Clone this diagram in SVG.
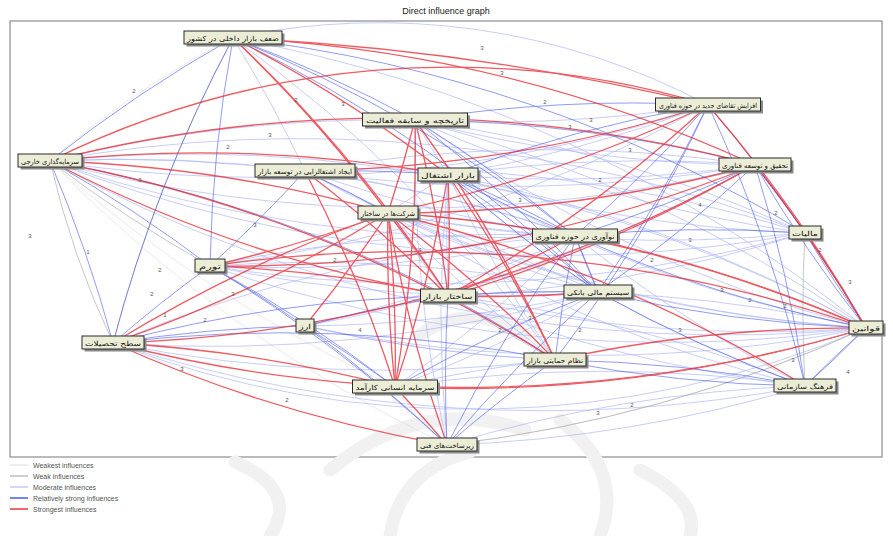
<svg xmlns="http://www.w3.org/2000/svg" width="893" height="536" viewBox="0 0 893 536">
<style>
.e{fill:none}
.s5{stroke:#e8262f;stroke-width:1.3;opacity:.75}
.s4{stroke:#3b4fe6;stroke-width:.8;opacity:.7}
.s3{stroke:#a3aef5;stroke-width:.7;opacity:.85}
.s2{stroke:#a0a0a0;stroke-width:.6}
.s1{stroke:#dcdcdc;stroke-width:.6}
.n rect.b{fill:#ecedd6;stroke:#2a2a2a;stroke-width:1}
.n rect.sh{fill:#8a8a8a}
.n text{font-family:"DejaVu Sans",sans-serif;font-size:7px;fill:#111;text-anchor:middle}
.lb{font-family:"Liberation Sans",sans-serif;font-size:6px;fill:#555;text-anchor:middle}
.lg{font-family:"Liberation Sans",sans-serif;font-size:7px;fill:#555}
.wm{fill:none;stroke:#f1f1f1;stroke-width:13;stroke-linecap:round}
</style>
<rect width="893" height="536" fill="#fff"/>
<text x="446" y="14" font-family="Liberation Sans,sans-serif" font-size="9" fill="#222" text-anchor="middle">Direct influence graph</text>
<rect x="10" y="21" width="872" height="436" fill="#fff" stroke="#777" stroke-width="1"/>
<g id="watermark">
<path class="wm" d="M330 470 Q420 395 525 430"/>
<path class="wm" d="M560 420 Q625 470 600 536"/>
<path class="wm" d="M390 536 Q400 470 470 452"/>
<path class="wm" d="M235 462 Q300 490 270 536"/>
<path class="wm" d="M420 335 Q470 300 525 335"/>
<path class="wm" d="M640 470 Q700 500 690 536"/>
</g>
<g id="connectors" class="e">
<g class="s1">
<path d="M50 161 A1400 1400 0 0 0 447 445"/>
<path d="M233 38 A900 900 0 0 0 50 161"/>
<path d="M866 328 A1400 1400 0 0 1 447 445"/>
<path d="M50 161 A1400 1400 0 0 0 395 387"/>
</g>
<g class="s2">
<path d="M50 161 A900 900 0 0 0 113 343"/>
<path d="M447 445 A1400 1400 0 0 0 866 328"/>
<path d="M113 343 A1400 1400 0 0 1 233 38"/>
<path d="M210 266 A1400 1400 0 0 1 50 161"/>
<path d="M805 386 A1400 1400 0 0 1 805 233"/>
</g>
<g class="s3">
<path d="M233 38 A700 700 0 0 1 708 105"/>
<path d="M50 161 A1400 1400 0 0 1 805 233"/>
<path d="M50 161 A1400 1400 0 0 1 575 236"/>
<path d="M50 161 A1400 1400 0 0 1 866 328"/>
<path d="M113 343 A1000 1000 0 0 0 866 328"/>
<path d="M113 343 A1400 1400 0 0 0 805 386"/>
<path d="M210 266 A1400 1400 0 0 1 575 236"/>
<path d="M210 266 A1400 1400 0 0 1 598 292"/>
<path d="M305 171 A1400 1400 0 0 1 575 236"/>
<path d="M415 120 A1400 1400 0 0 1 805 233"/>
<path d="M447 445 A1400 1400 0 0 1 805 386"/>
<path d="M395 387 A1400 1400 0 0 1 805 386"/>
<path d="M395 387 A1400 1400 0 0 1 555 360"/>
<path d="M305 326 A1400 1400 0 0 0 555 360"/>
<path d="M448 296 A1400 1400 0 0 1 805 386"/>
<path d="M448 296 A1400 1400 0 0 1 866 328"/>
<path d="M388 213 A1400 1400 0 0 1 575 236"/>
<path d="M388 213 A1400 1400 0 0 1 598 292"/>
<path d="M448 175 A1400 1400 0 0 1 755 165"/>
<path d="M305 171 A1400 1400 0 0 1 755 165"/>
<path d="M50 161 A1400 1400 0 0 1 415 120"/>
<path d="M50 161 A1400 1400 0 0 1 305 171"/>
<path d="M233 38 A1400 1400 0 0 1 305 171"/>
<path d="M708 105 A1400 1400 0 0 1 50 161"/>
<path d="M755 165 A1400 1400 0 0 1 50 161"/>
<path d="M866 328 A1400 1400 0 0 1 50 161"/>
<path d="M805 233 A1400 1400 0 0 1 388 213"/>
<path d="M575 236 A1400 1400 0 0 1 210 266"/>
<path d="M598 292 A1400 1400 0 0 1 113 343"/>
<path d="M555 360 A1400 1400 0 0 1 113 343"/>
<path d="M805 386 A1400 1400 0 0 1 447 445"/>
<path d="M708 105 A1400 1400 0 0 1 415 120"/>
<path d="M755 165 A1400 1400 0 0 1 305 171"/>
<path d="M233 38 A1400 1400 0 0 1 866 328"/>
<path d="M113 343 A1400 1400 0 0 1 575 236"/>
<path d="M805 233 A1400 1400 0 0 1 448 296"/>
<path d="M866 328 A1400 1400 0 0 1 388 213"/>
<path d="M866 328 A1400 1400 0 0 1 448 296"/>
<path d="M866 328 A1400 1400 0 0 1 415 120"/>
<path d="M866 328 A1400 1400 0 0 1 448 175"/>
<path d="M866 328 A1400 1400 0 0 1 305 171"/>
<path d="M866 328 A1400 1400 0 0 1 210 266"/>
<path d="M866 328 A1400 1400 0 0 1 305 326"/>
<path d="M805 233 A1400 1400 0 0 1 448 175"/>
<path d="M805 233 A1400 1400 0 0 1 415 120"/>
<path d="M805 233 A1400 1400 0 0 1 50 161"/>
<path d="M805 233 A1400 1400 0 0 1 210 266"/>
<path d="M755 165 A1400 1400 0 0 1 448 175"/>
<path d="M755 165 A1400 1400 0 0 1 415 120"/>
<path d="M755 165 A1400 1400 0 0 1 305 326"/>
<path d="M575 236 A1400 1400 0 0 1 388 213"/>
<path d="M575 236 A1400 1400 0 0 1 305 171"/>
<path d="M575 236 A1400 1400 0 0 1 50 161"/>
<path d="M575 236 A1400 1400 0 0 1 305 326"/>
<path d="M575 236 A1400 1400 0 0 1 395 387"/>
<path d="M598 292 A1400 1400 0 0 1 388 213"/>
<path d="M598 292 A1400 1400 0 0 1 448 175"/>
<path d="M598 292 A1400 1400 0 0 1 210 266"/>
<path d="M598 292 A1400 1400 0 0 1 305 326"/>
<path d="M598 292 A1400 1400 0 0 1 395 387"/>
<path d="M555 360 A1400 1400 0 0 1 448 296"/>
<path d="M555 360 A1400 1400 0 0 1 388 213"/>
<path d="M555 360 A1400 1400 0 0 1 448 175"/>
<path d="M555 360 A1400 1400 0 0 1 305 326"/>
<path d="M805 386 A1400 1400 0 0 1 448 296"/>
<path d="M805 386 A1400 1400 0 0 1 388 213"/>
<path d="M805 386 A1400 1400 0 0 1 575 236"/>
<path d="M805 386 A1400 1400 0 0 1 598 292"/>
<path d="M447 445 A1400 1400 0 0 1 448 175"/>
<path d="M447 445 A1400 1400 0 0 1 415 120"/>
<path d="M448 175 A1400 1400 0 0 1 415 120"/>
<path d="M388 213 A1400 1400 0 0 1 448 175"/>
<path d="M388 213 A1400 1400 0 0 1 305 171"/>
<path d="M448 296 A1400 1400 0 0 1 388 213"/>
<path d="M448 296 A1400 1400 0 0 1 448 175"/>
<path d="M708 105 A1400 1400 0 0 1 448 175"/>
<path d="M708 105 A1400 1400 0 0 1 210 266"/>
<path d="M415 120 A1400 1400 0 0 1 866 328"/>
<path d="M448 175 A1400 1400 0 0 1 866 328"/>
<path d="M305 171 A1400 1400 0 0 1 805 233"/>
<path d="M233 38 A1400 1400 0 0 1 555 360"/>
</g>
<g class="s4">
<path d="M233 38 A1400 1400 0 0 0 50 161"/>
<path d="M233 38 A1400 1400 0 0 0 113 343"/>
<path d="M233 38 A1400 1400 0 0 0 210 266"/>
<path d="M233 38 A1400 1400 0 0 1 415 120"/>
<path d="M233 38 A1400 1400 0 0 1 575 236"/>
<path d="M233 38 A1400 1400 0 0 1 598 292"/>
<path d="M233 38 A1400 1400 0 0 1 805 233"/>
<path d="M50 161 A1400 1400 0 0 1 113 343"/>
<path d="M50 161 A1400 1400 0 0 1 210 266"/>
<path d="M708 105 A1400 1400 0 0 1 805 233"/>
<path d="M708 105 A1400 1400 0 0 1 805 386"/>
<path d="M708 105 A1400 1400 0 0 1 575 236"/>
<path d="M708 105 A1400 1400 0 0 1 598 292"/>
<path d="M708 105 A1400 1400 0 0 1 555 360"/>
<path d="M755 165 A1400 1400 0 0 1 805 233"/>
<path d="M755 165 A1400 1400 0 0 1 805 386"/>
<path d="M755 165 A1400 1400 0 0 1 575 236"/>
<path d="M755 165 A1400 1400 0 0 1 598 292"/>
<path d="M415 120 A1400 1400 0 0 1 575 236"/>
<path d="M415 120 A1400 1400 0 0 1 598 292"/>
<path d="M415 120 A1400 1400 0 0 1 755 165"/>
<path d="M415 120 A1400 1400 0 0 1 708 105"/>
<path d="M113 343 A1400 1400 0 0 1 448 296"/>
<path d="M113 343 A1400 1400 0 0 1 555 360"/>
<path d="M113 343 A1400 1400 0 0 1 210 266"/>
<path d="M113 343 A1400 1400 0 0 1 305 326"/>
<path d="M210 266 A1400 1400 0 0 1 305 326"/>
<path d="M210 266 A1400 1400 0 0 1 395 387"/>
<path d="M210 266 A1400 1400 0 0 1 447 445"/>
<path d="M448 296 A1400 1400 0 0 1 598 292"/>
<path d="M448 296 A1400 1400 0 0 1 555 360"/>
<path d="M447 445 A1400 1400 0 0 1 555 360"/>
<path d="M447 445 A1400 1400 0 0 1 598 292"/>
<path d="M447 445 A1400 1400 0 0 1 448 296"/>
<path d="M447 445 A1400 1400 0 0 1 575 236"/>
<path d="M805 386 A1400 1400 0 0 1 866 328"/>
<path d="M805 386 A1400 1400 0 0 1 598 292"/>
<path d="M805 386 A1400 1400 0 0 1 555 360"/>
<path d="M555 360 A1400 1400 0 0 1 805 386"/>
<path d="M866 328 A1400 1400 0 0 1 805 386"/>
<path d="M866 328 A1400 1400 0 0 1 805 233"/>
<path d="M866 328 A1400 1400 0 0 1 598 292"/>
<path d="M866 328 A1400 1400 0 0 1 575 236"/>
<path d="M575 236 A1400 1400 0 0 1 805 233"/>
<path d="M575 236 A1400 1400 0 0 1 598 292"/>
<path d="M598 292 A1400 1400 0 0 1 575 236"/>
<path d="M305 171 A1400 1400 0 0 1 388 213"/>
<path d="M305 171 A1400 1400 0 0 1 210 266"/>
<path d="M305 171 A1400 1400 0 0 1 448 175"/>
<path d="M448 175 A1400 1400 0 0 1 575 236"/>
<path d="M448 175 A1400 1400 0 0 1 598 292"/>
<path d="M448 175 A1400 1400 0 0 1 708 105"/>
<path d="M305 326 A1400 1400 0 0 1 448 296"/>
<path d="M305 326 A1400 1400 0 0 1 395 387"/>
<path d="M305 326 A1400 1400 0 0 1 447 445"/>
<path d="M50 161 A1400 1400 0 0 1 448 296"/>
<path d="M755 165 A1400 1400 0 0 1 866 328"/>
<path d="M575 236 A1400 1400 0 0 1 448 175"/>
<path d="M598 292 A1400 1400 0 0 1 448 175"/>
<path d="M555 360 A1400 1400 0 0 1 575 236"/>
<path d="M395 387 A1400 1400 0 0 1 598 292"/>
<path d="M866 328 A1400 1400 0 0 1 755 165"/>
</g>
<g class="s5">
<path d="M233 38 A2500 2500 0 0 1 708 105"/>
<path d="M233 38 A1400 1400 0 0 1 755 165"/>
<path d="M233 38 A1400 1400 0 0 1 448 175"/>
<path d="M233 38 A1400 1400 0 0 1 448 296"/>
<path d="M233 38 A1400 1400 0 0 1 388 213"/>
<path d="M50 161 A900 900 0 0 1 708 105"/>
<path d="M50 161 A1400 1400 0 0 1 755 165"/>
<path d="M50 161 A1400 1400 0 0 1 388 213"/>
<path d="M50 161 A1400 1400 0 0 0 448 296"/>
<path d="M50 161 A1400 1400 0 0 1 448 175"/>
<path d="M50 161 A1400 1400 0 0 1 555 360"/>
<path d="M708 105 A1400 1400 0 0 1 866 328"/>
<path d="M708 105 A1400 1400 0 0 1 448 296"/>
<path d="M708 105 A1400 1400 0 0 1 388 213"/>
<path d="M708 105 A1400 1400 0 0 1 305 171"/>
<path d="M755 165 A1400 1400 0 0 1 866 328"/>
<path d="M755 165 A1400 1400 0 0 1 388 213"/>
<path d="M755 165 A1400 1400 0 0 1 448 296"/>
<path d="M755 165 A1400 1400 0 0 1 113 343"/>
<path d="M755 165 A1400 1400 0 0 1 210 266"/>
<path d="M415 120 A1400 1400 0 0 1 448 296"/>
<path d="M415 120 A1400 1400 0 0 1 395 387"/>
<path d="M415 120 A1400 1400 0 0 1 388 213"/>
<path d="M415 120 A1400 1400 0 0 1 555 360"/>
<path d="M448 175 A1400 1400 0 0 1 448 296"/>
<path d="M448 175 A1400 1400 0 0 1 395 387"/>
<path d="M448 175 A1400 1400 0 0 1 555 360"/>
<path d="M305 171 A1400 1400 0 0 1 448 296"/>
<path d="M305 171 A1400 1400 0 0 1 395 387"/>
<path d="M388 213 A1400 1400 0 0 1 113 343"/>
<path d="M388 213 A1400 1400 0 0 1 210 266"/>
<path d="M388 213 A1400 1400 0 0 1 448 296"/>
<path d="M388 213 A1400 1400 0 0 1 555 360"/>
<path d="M388 213 A1400 1400 0 0 1 805 386"/>
<path d="M388 213 A1400 1400 0 0 1 866 328"/>
<path d="M388 213 A1400 1400 0 0 1 305 326"/>
<path d="M388 213 A1400 1400 0 0 1 395 387"/>
<path d="M866 328 A1400 1400 0 0 1 113 343"/>
<path d="M866 328 A1400 1400 0 0 1 395 387"/>
<path d="M113 343 A1400 1400 0 0 0 447 445"/>
<path d="M113 343 A1400 1400 0 0 1 395 387"/>
<path d="M113 343 A1400 1400 0 0 1 388 213"/>
<path d="M395 387 A1400 1400 0 0 1 447 445"/>
<path d="M395 387 A1400 1400 0 0 1 388 213"/>
<path d="M575 236 A1400 1400 0 0 1 448 296"/>
<path d="M575 236 A1400 1400 0 0 1 866 328"/>
<path d="M210 266 A1400 1400 0 0 1 866 328"/>
<path d="M210 266 A1400 1400 0 0 1 448 296"/>
<path d="M447 445 A1400 1400 0 0 1 388 213"/>
<path d="M555 360 A1400 1400 0 0 1 866 328"/>
<path d="M598 292 A1400 1400 0 0 1 448 296"/>
<path d="M805 233 A1400 1400 0 0 1 866 328"/>
</g>
</g>
<g id="edge-labels">
<text class="lb" x="482" y="50">3</text>
<text class="lb" x="134" y="93">2</text>
<text class="lb" x="502" y="75">3</text>
<text class="lb" x="296" y="102">2</text>
<text class="lb" x="343" y="106">3</text>
<text class="lb" x="228" y="149">2</text>
<text class="lb" x="570" y="129">3</text>
<text class="lb" x="591" y="122">3</text>
<text class="lb" x="88" y="254">1</text>
<text class="lb" x="30" y="238">3</text>
<text class="lb" x="160" y="272">2</text>
<text class="lb" x="152" y="296">2</text>
<text class="lb" x="233" y="296">3</text>
<text class="lb" x="182" y="371">3</text>
<text class="lb" x="287" y="402">2</text>
<text class="lb" x="598" y="415">3</text>
<text class="lb" x="632" y="407">2</text>
<text class="lb" x="850" y="284">3</text>
<text class="lb" x="793" y="362">3</text>
<text class="lb" x="848" y="374">4</text>
<text class="lb" x="785" y="308">2</text>
<text class="lb" x="776" y="215">2</text>
<text class="lb" x="545" y="104">2</text>
<text class="lb" x="630" y="152">3</text>
<text class="lb" x="700" y="207">4</text>
<text class="lb" x="652" y="262">2</text>
<text class="lb" x="690" y="242">3</text>
<text class="lb" x="722" y="292">3</text>
<text class="lb" x="500" y="332">2</text>
<text class="lb" x="530" y="320">3</text>
<text class="lb" x="360" y="332">4</text>
<text class="lb" x="335" y="262">2</text>
<text class="lb" x="255" y="227">3</text>
<text class="lb" x="205" y="322">2</text>
<text class="lb" x="165" y="317">1</text>
<text class="lb" x="420" y="252">4</text>
<text class="lb" x="270" y="137">3</text>
<text class="lb" x="750" y="302">2</text>
<text class="lb" x="680" y="332">3</text>
<text class="lb" x="820" y="252">2</text>
<text class="lb" x="140" y="182">3</text>
<text class="lb" x="600" y="182">2</text>
<text class="lb" x="520" y="202">3</text>
<text class="lb" x="580" y="332">2</text>
</g>
<g id="nodes">
<g id="n1" class="n"><rect class="sh" x="186.5" y="33.5" width="98" height="13"/><rect class="b" x="184" y="31" width="98" height="13"/><text x="233" y="40.5" textLength="92" lengthAdjust="spacingAndGlyphs">ضعف بازار داخلی در کشور</text></g>
<g id="n2" class="n"><rect class="sh" x="365" y="115.5" width="105" height="13"/><rect class="b" x="362.5" y="113" width="105" height="13"/><text x="415" y="122.5" textLength="98" lengthAdjust="spacingAndGlyphs">تاریخچه و سابقه فعالیت</text></g>
<g id="n3" class="n"><rect class="sh" x="658" y="100.5" width="105" height="13"/><rect class="b" x="655.5" y="98" width="105" height="13"/><text x="708" y="107.5" textLength="98" lengthAdjust="spacingAndGlyphs">افزایش تقاضای جدید در حوزه فناوری</text></g>
<g id="n4" class="n"><rect class="sh" x="20.5" y="156.5" width="64" height="13"/><rect class="b" x="18" y="154" width="64" height="13"/><text x="50" y="163.5" textLength="58" lengthAdjust="spacingAndGlyphs">سرمایه‌گذاری خارجی</text></g>
<g id="n5" class="n"><rect class="sh" x="257.5" y="166.5" width="100" height="13"/><rect class="b" x="255" y="164" width="100" height="13"/><text x="305" y="173.5" textLength="94" lengthAdjust="spacingAndGlyphs">ایجاد اشتغالزایی در توسعه بازار</text></g>
<g id="n6" class="n"><rect class="sh" x="420.5" y="170.5" width="60" height="13"/><rect class="b" x="418" y="168" width="60" height="13"/><text x="448" y="177.5" textLength="54" lengthAdjust="spacingAndGlyphs">بازار اشتغال</text></g>
<g id="n7" class="n"><rect class="sh" x="721.5" y="160.5" width="72" height="13"/><rect class="b" x="719" y="158" width="72" height="13"/><text x="755" y="167.5" textLength="66" lengthAdjust="spacingAndGlyphs">تحقیق و توسعه فناوری</text></g>
<g id="n8" class="n"><rect class="sh" x="360.5" y="208.5" width="60" height="13"/><rect class="b" x="358" y="206" width="60" height="13"/><text x="388" y="215.5" textLength="54" lengthAdjust="spacingAndGlyphs">شرکت‌ها در ساختار</text></g>
<g id="n9" class="n"><rect class="sh" x="535" y="231.5" width="85" height="13"/><rect class="b" x="532.5" y="229" width="85" height="13"/><text x="575" y="238.5" textLength="79" lengthAdjust="spacingAndGlyphs">نوآوری در حوزه فناوری</text></g>
<g id="n10" class="n"><rect class="sh" x="791.5" y="228.5" width="32" height="13"/><rect class="b" x="789" y="226" width="32" height="13"/><text x="805" y="235.5" textLength="26" lengthAdjust="spacingAndGlyphs">مالیات</text></g>
<g id="n11" class="n"><rect class="sh" x="197.5" y="261.5" width="30" height="13"/><rect class="b" x="195" y="259" width="30" height="13"/><text x="210" y="268.5" textLength="22" lengthAdjust="spacingAndGlyphs">تورم</text></g>
<g id="n12" class="n"><rect class="sh" x="423" y="291.5" width="55" height="13"/><rect class="b" x="420.5" y="289" width="55" height="13"/><text x="448" y="298.5" textLength="49" lengthAdjust="spacingAndGlyphs">ساختار بازار</text></g>
<g id="n13" class="n"><rect class="sh" x="566.5" y="287.5" width="68" height="13"/><rect class="b" x="564" y="285" width="68" height="13"/><text x="598" y="294.5" textLength="62" lengthAdjust="spacingAndGlyphs">سیستم مالی بانکی</text></g>
<g id="n14" class="n"><rect class="sh" x="851.5" y="323.5" width="34" height="13"/><rect class="b" x="849" y="321" width="34" height="13"/><text x="866" y="330.5" textLength="28" lengthAdjust="spacingAndGlyphs">قوانین</text></g>
<g id="n15" class="n"><rect class="sh" x="298.5" y="321.5" width="18" height="13"/><rect class="b" x="296" y="319" width="18" height="13"/><text x="305" y="328.5" textLength="12" lengthAdjust="spacingAndGlyphs">ارز</text></g>
<g id="n16" class="n"><rect class="sh" x="84.5" y="338.5" width="62" height="13"/><rect class="b" x="82" y="336" width="62" height="13"/><text x="113" y="345.5" textLength="56" lengthAdjust="spacingAndGlyphs">سطح تحصیلات</text></g>
<g id="n17" class="n"><rect class="sh" x="526.5" y="355.5" width="62" height="13"/><rect class="b" x="524" y="353" width="62" height="13"/><text x="555" y="362.5" textLength="56" lengthAdjust="spacingAndGlyphs">نظام حمایتی بازار</text></g>
<g id="n18" class="n"><rect class="sh" x="355" y="382.5" width="85" height="13"/><rect class="b" x="352.5" y="380" width="85" height="13"/><text x="395" y="389.5" textLength="79" lengthAdjust="spacingAndGlyphs">سرمایه انسانی کارآمد</text></g>
<g id="n19" class="n"><rect class="sh" x="776.5" y="381.5" width="62" height="13"/><rect class="b" x="774" y="379" width="62" height="13"/><text x="805" y="388.5" textLength="56" lengthAdjust="spacingAndGlyphs">فرهنگ سازمانی</text></g>
<g id="n20" class="n"><rect class="sh" x="419.5" y="440.5" width="60" height="13"/><rect class="b" x="417" y="438" width="60" height="13"/><text x="447" y="447.5" textLength="54" lengthAdjust="spacingAndGlyphs">زیرساخت‌های فنی</text></g>
</g>
<g id="legend">
<line x1="10" y1="465" x2="28" y2="465" stroke="#dcdcdc" stroke-width="1"/>
<text class="lg" x="33" y="467.5">Weakest influences</text>
<line x1="10" y1="476" x2="28" y2="476" stroke="#a0a0a0" stroke-width="1"/>
<text class="lg" x="33" y="478.5">Weak influences</text>
<line x1="10" y1="487" x2="28" y2="487" stroke="#a3aef5" stroke-width="1"/>
<text class="lg" x="33" y="489.5">Moderate influences</text>
<line x1="10" y1="498" x2="28" y2="498" stroke="#3b4fe6" stroke-width="1.4"/>
<text class="lg" x="33" y="500.5">Relatively strong influences</text>
<line x1="10" y1="509" x2="28" y2="509" stroke="#e8262f" stroke-width="1.4"/>
<text class="lg" x="33" y="511.5">Strongest influences</text>
</g>
</svg>
